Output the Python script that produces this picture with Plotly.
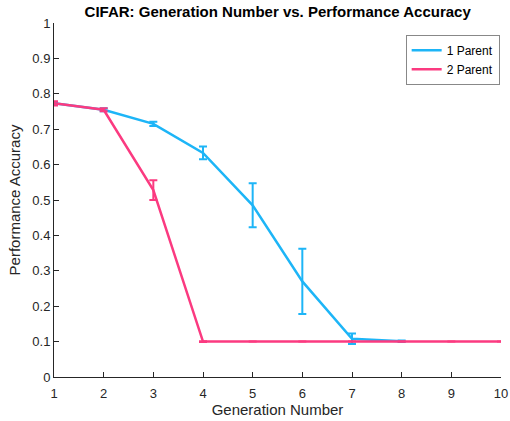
import plotly.graph_objects as go

gens_1p = [1, 2, 3, 4, 5, 6, 7, 8]
acc_1p = [0.773, 0.755, 0.715, 0.633, 0.485, 0.27, 0.108, 0.101]
err_1p = [0.004, 0.004, 0.006, 0.018, 0.062, 0.092, 0.015, 0.002]

gens_2p = [1, 2, 3, 4, 5, 6, 7, 8, 9, 10]
acc_2p = [0.773, 0.755, 0.528, 0.1, 0.1, 0.1, 0.1, 0.1, 0.1, 0.1]
err_2p = [0.006, 0.004, 0.028, 0.001, 0.0, 0.0, 0.0, 0.0, 0.0, 0.0]

x_ticks = list(range(1, 11))
y_ticks = [i / 10 for i in range(11)]
y_tick_text = ["0", "0.1", "0.2", "0.3", "0.4", "0.5", "0.6", "0.7", "0.8", "0.9", "1"]

blue = "#1DB5F7"
pink = "#FB3A80"
axis_col = "#262626"
font = "Liberation Sans, Arial, sans-serif"

fig = go.Figure()
fig.add_trace(go.Scatter(
    x=gens_1p, y=acc_1p, name="1 Parent", mode="lines",
    line=dict(color=blue, width=2.5),
    error_y=dict(type="data", array=err_1p, visible=True, color=blue, thickness=2, width=4),
))
fig.add_trace(go.Scatter(
    x=gens_2p, y=acc_2p, name="2 Parent", mode="lines",
    line=dict(color=pink, width=2.5),
    error_y=dict(type="data", array=err_2p, visible=True, color=pink, thickness=2, width=4),
))

fig.update_layout(
    width=510, height=421,
    margin=dict(l=54, r=9, t=23, b=44, autoexpand=False),
    paper_bgcolor="white", plot_bgcolor="white",
    font=dict(family=font, color=axis_col, size=13),
    title=dict(text="<b>CIFAR: Generation Number vs. Performance Accuracy</b>",
               x=0.5445, xanchor="center", y=0.972, yanchor="middle",
               font=dict(size=15, color="black")),
    showlegend=True,
    legend=dict(x=0.997, y=0.967, xanchor="right", yanchor="top",
                bordercolor="#888888", borderwidth=1, bgcolor="white",
                font=dict(size=12, color="black"), tracegroupgap=0,
                itemwidth=30),
    xaxis=dict(range=[1, 10], tickvals=x_ticks, ticks="inside", ticklen=5,
               tickcolor=axis_col, showline=True, linecolor=axis_col, linewidth=1,
               showgrid=False, zeroline=False, automargin=False, ticklabelstandoff=4,
               title=dict(text="Generation Number", font=dict(size=15), standoff=4),
               tickfont=dict(size=13)),
    yaxis=dict(range=[0, 1], tickvals=y_ticks, ticktext=y_tick_text, ticks="inside", ticklen=5,
               tickcolor=axis_col, showline=True, linecolor=axis_col, linewidth=1,
               showgrid=False, zeroline=False, automargin=False,
               title=dict(text="Performance Accuracy", font=dict(size=15), standoff=8),
               tickfont=dict(size=13)),
)

fig.write_html("out.html")
